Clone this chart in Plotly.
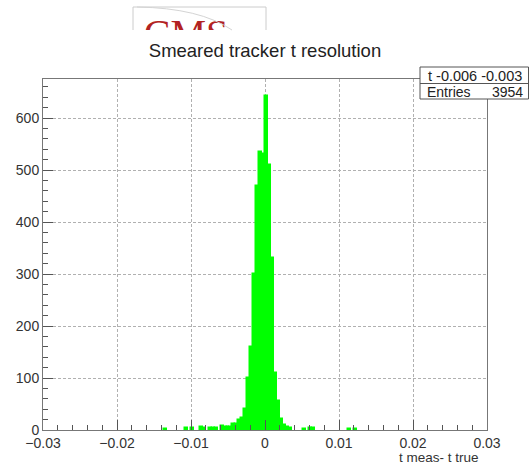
import plotly.graph_objects as go

# Histogram contents (non-empty bins), bin width 0.0004 over [-0.03, 0.03]
bin_centres = [-0.0134, -0.0106, -0.0098, -0.0086, -0.0082, -0.0074, -0.0070,
               -0.0066, -0.0058, -0.0054, -0.0050, -0.0046, -0.0042, -0.0038,
               -0.0034, -0.0030, -0.0026, -0.0022, -0.0018, -0.0014, -0.0010,
               -0.0006, -0.0002, 0.0002, 0.0006, 0.0010, 0.0014, 0.0018,
               0.0022, 0.0026, 0.0030, 0.0034, 0.0054, 0.0062, 0.0066,
               0.0114, 0.0122]
counts = [2, 3, 3, 5, 4, 3, 3,
          3, 7, 6, 5, 5, 11, 12,
          19, 24, 40, 100, 160, 300, 470,
          535, 530, 642, 510, 330, 110, 55,
          22, 10, 6, 3, 2, 4, 3,
          1, 1]
bin_width = 0.0004

x_tick_vals = [-0.03, -0.02, -0.01, 0.0, 0.01, 0.02, 0.03]
x_tick_text = ["\u22120.03", "\u22120.02", "\u22120.01", "0", "0.01", "0.02", "0.03"]
y_tick_vals = [0, 100, 200, 300, 400, 500, 600]
y_tick_text = ["0", "100", "200", "300", "400", "500", "600"]

hist_name = "t -0.006 -0.003"
entries = 3954
title_text = "Smeared tracker t resolution"
x_title = "t meas- t true"

W, H = 530, 464


def px(x):
    return x / W


def py(y):
    return 1 - y / H


FONT = "Liberation Sans, Arial, sans-serif"
TXT = "#333333"
GREEN = "#00ff00"

fig = go.Figure()

fig.add_trace(go.Bar(
    x=bin_centres, y=counts, width=bin_width,
    marker=dict(color=GREEN, line=dict(width=1.5, color=GREEN)),
    showlegend=False, hoverinfo="x+y",
))

# Logo strip above the title, clipped by its own small subplot
fig.add_trace(go.Scatter(
    x=[186], y=[37], mode="text", text=["CMS"],
    textfont=dict(family="Liberation Serif, Times New Roman, serif", size=40, color="#b22222"),
    textposition="middle center", cliponaxis=True,
    xaxis="x2", yaxis="y2", showlegend=False, hoverinfo="skip",
))

grid_dash = "3px,2px"

fig.update_layout(
    width=W, height=H, autosize=False,
    margin=dict(l=0, r=0, t=0, b=0),
    paper_bgcolor="white", plot_bgcolor="white",
    font=dict(family=FONT, size=14, color=TXT),
    bargap=0,
    title=dict(text=title_text, x=0.5, xanchor="center", y=py(51), yanchor="middle",
               font=dict(family=FONT, size=18.5, color="#222222")),
    xaxis=dict(
        domain=[px(43), px(487)], range=[-0.03, 0.03], automargin=False,
        tickmode="array", tickvals=x_tick_vals, ticktext=x_tick_text,
        ticks="inside", ticklen=10, tickwidth=1, tickcolor="#555555",
        minor=dict(tickmode="linear", tick0=-0.03, dtick=0.002, ticks="inside",
                   ticklen=5, tickcolor="#555555", showgrid=False),
        showgrid=True, gridcolor="#b0b0b0", griddash=grid_dash, gridwidth=1,
        zeroline=False, showline=True, linecolor="#777777", linewidth=1, mirror=True,
        tickfont=dict(size=14, color=TXT), fixedrange=True,
    ),
    yaxis=dict(
        domain=[py(430), py(79)], range=[0, 675], automargin=False,
        tickmode="array", tickvals=y_tick_vals, ticktext=y_tick_text,
        ticks="inside", ticklen=10, tickwidth=1, tickcolor="#555555",
        minor=dict(tickmode="linear", tick0=0, dtick=20, ticks="inside",
                   ticklen=5, tickcolor="#555555", showgrid=False),
        showgrid=True, gridcolor="#b0b0b0", griddash=grid_dash, gridwidth=1,
        zeroline=False, showline=True, linecolor="#777777", linewidth=1, mirror=True,
        tickfont=dict(size=14, color=TXT), fixedrange=True,
    ),
    xaxis2=dict(domain=[px(133), px(266)], range=[133, 266], visible=False,
                anchor="y2", fixedrange=True),
    yaxis2=dict(domain=[py(30), py(7)], range=[30, 7], visible=False,
                anchor="x2", fixedrange=True),
)

shapes = []
# logo frame (left, top, right edges)
shapes.append(dict(type="path", xref="paper", yref="paper",
                   path=f"M {px(133)} {py(30)} L {px(133)} {py(7)} L {px(266)} {py(7)} L {px(266)} {py(30)}",
                   line=dict(color="#cccccc", width=1)))
shapes.append(dict(type="path", xref="paper", yref="paper",
                   path=f"M {px(137)} {py(7)} Q {px(200)} {py(8)} {px(232)} {py(30)}",
                   line=dict(color="#d4d4d4", width=1)))
# statistics box
shapes.append(dict(type="rect", xref="paper", yref="paper", layer="above",
                   x0=px(420), x1=px(528.5), y0=py(99), y1=py(67),
                   fillcolor="white", line=dict(color="#555555", width=1)))
shapes.append(dict(type="line", xref="paper", yref="paper", layer="above",
                   x0=px(420), x1=px(528.5), y0=py(83.5), y1=py(83.5),
                   line=dict(color="#555555", width=1)))
fig.update_layout(shapes=shapes)

annotations = [
    dict(text=hist_name, x=px(475), y=py(75.5), xref="paper", yref="paper",
         xanchor="center", yanchor="middle", showarrow=False,
         font=dict(family=FONT, size=14.5, color="#222222")),
    dict(text="Entries", x=px(425), y=py(91.5), xref="paper", yref="paper",
         xanchor="left", yanchor="middle", showarrow=False,
         font=dict(family=FONT, size=14, color="#222222")),
    dict(text=str(entries), x=px(525), y=py(91.5), xref="paper", yref="paper",
         xanchor="right", yanchor="middle", showarrow=False,
         font=dict(family=FONT, size=14, color="#222222")),
    dict(text=x_title, x=px(481), y=py(457), xref="paper", yref="paper",
         xanchor="right", yanchor="middle", showarrow=False,
         font=dict(family=FONT, size=13.5, color=TXT)),
]
fig.update_layout(annotations=annotations)

fig.write_html("out.html")
